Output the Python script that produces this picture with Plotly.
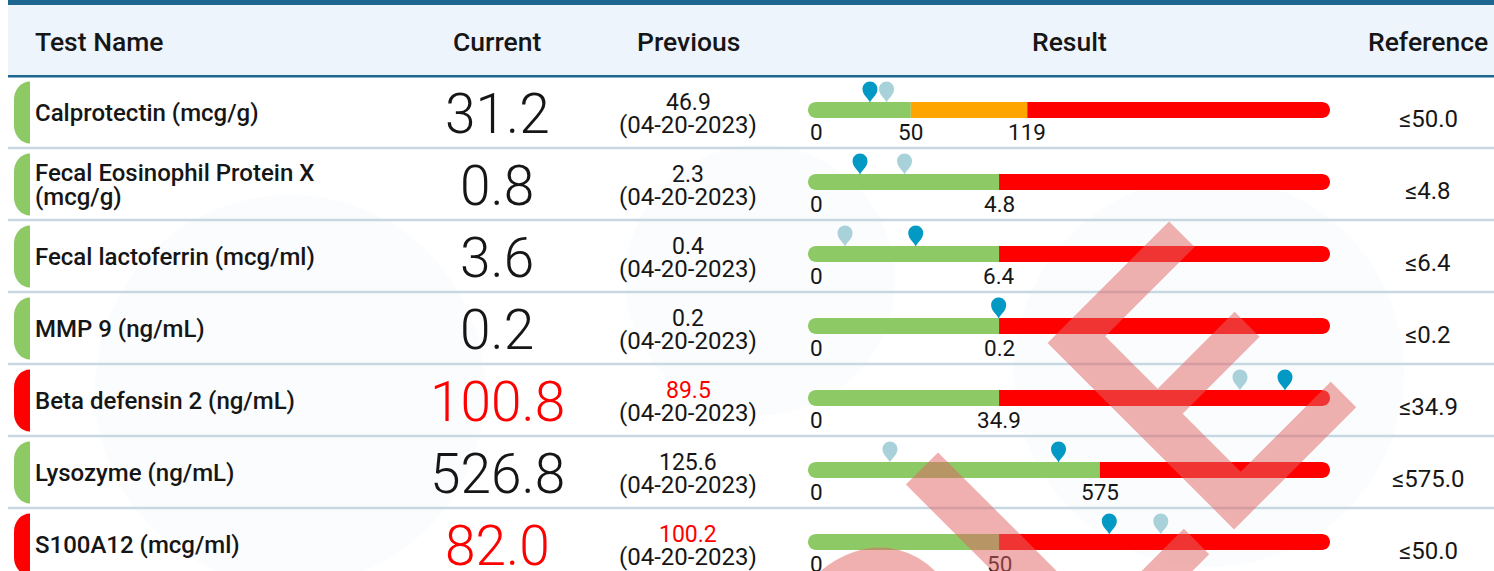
import plotly.graph_objects as go

# ---------------- data ----------------
column_headers = ["Test Name", "Current", "Previous", "Result", "Reference"]
test_names = [
    "Calprotectin (mcg/g)",
    "Fecal Eosinophil Protein X\n(mcg/g)",
    "Fecal lactoferrin (mcg/ml)",
    "MMP 9 (ng/mL)",
    "Beta defensin 2 (ng/mL)",
    "Lysozyme (ng/mL)",
    "S100A12 (mcg/ml)",
]
current_values = [31.2, 0.8, 3.6, 0.2, 100.8, 526.8, 82.0]
previous_values = [46.9, 2.3, 0.4, 0.2, 89.5, 125.6, 100.2]
previous_dates = ["04-20-2023"] * 7
reference_ranges = ["≤50.0", "≤4.8", "≤6.4", "≤0.2", "≤34.9", "≤575.0", "≤50.0"]
current_flags = ["normal", "normal", "normal", "normal", "high", "normal", "high"]
previous_flags = ["normal", "normal", "normal", "normal", "high", "normal", "high"]
cutoff_labels = [["50", "119"], ["4.8"], ["6.4"], ["0.2"], ["34.9"], ["575"], ["50"]]
segment_kinds = [["normal", "borderline", "high"], ["normal", "high"], ["normal", "high"],
                 ["normal", "high"], ["normal", "high"], ["normal", "high"], ["normal", "high"]]
watermark_text = "SAMPLE"

# ---------------- styling / layout ----------------
W, H = 1494, 571
FONT = "Roboto"
LIGHT_FONT = "Roboto Light, Inter"
TEXT = "#161616"
COLORS = {"normal": "#8DC965", "borderline": "#FFA500", "high": "#FF0000"}
CUR_PIN = "#0399C5"
PREV_PIN = "#A9D1DA"
HEAD_DARK = "#1D6690"
HEAD_BG = "#EEF4FC"
SEP = "#C7D8E3"
ROW_C0, ROW_H = 112.5, 72
BAR_X0, BAR_X1 = 808, 1330
BAR_HALF = 8
# where each cutoff sits along the result bar (fraction of bar length)
cutoff_pos = [[0.197, 0.42], [0.366], [0.366], [0.366], [0.366], [0.559], [0.366]]
# value scale (axis range) used for the pins of each row
pin_scale = [(-27.4, 466.2), (-0.954, 16.64), (-1.277, 22.35), (-0.0351, 0.6085),
             (-18.98, 112.1), (-69.5, 1172.8), (-24.5, 160.0)]
# faint background logo circles (cx, cy, r) in page pixels
bg_circles = [(290, 390, 195), (760, 280, 135), (1209, 372, 195)]

n = len(test_names)
bar_dom = [BAR_X0 / W, BAR_X1 / W]
K = 0.5523

fig = go.Figure()
shapes = []
ann = []


def rounded_path(x0, x1, yc, hh, r, left, right):
    yt, yb = yc - hh, yc + hh
    p = []
    if left:
        p.append(f"M{x0 + r},{yb}")
        p.append(f"C{x0 + r - K * r},{yb} {x0},{yc + K * hh} {x0},{yc}")
        p.append(f"C{x0},{yc - K * hh} {x0 + r - K * r},{yt} {x0 + r},{yt}")
    else:
        p.append(f"M{x0},{yb} L{x0},{yt}")
    if right:
        p.append(f"L{x1 - r},{yt}")
        p.append(f"C{x1 - r + K * r},{yt} {x1},{yc - K * hh} {x1},{yc}")
        p.append(f"C{x1},{yc + K * hh} {x1 - r + K * r},{yb} {x1 - r},{yb}")
    else:
        p.append(f"L{x1},{yt} L{x1},{yb}")
    p.append("Z")
    return " ".join(p)


def pill_path(x0, x1, y0, y1, rx, ry):
    return (f"M{x1},{y0} L{x1},{y1} "
            f"C{x1 - K * rx},{y1} {x0},{y1 - ry + K * ry} {x0},{y1 - ry} "
            f"L{x0},{y0 + ry} "
            f"C{x0},{y0 + ry - K * ry} {x1 - K * rx},{y0} {x1},{y0} Z")


PIN = ("M0,0 C-2,4.5 -7.5,7.5 -7.5,13.5 C-7.5,17.6 -4.1,21 0,21 "
       "C4.1,21 7.5,17.6 7.5,13.5 C7.5,7.5 2,4.5 0,0 Z")

# faint background logo
for cx, cy, r in bg_circles:
    shapes.append(dict(type="circle", xref="x", yref="y", x0=cx - r, x1=cx + r,
                       y0=cy - r, y1=cy + r, fillcolor="rgba(170,190,200,0.045)",
                       line_width=0, layer="below"))

# header
shapes.append(dict(type="rect", xref="x", yref="y", x0=8, x1=W, y0=0, y1=5,
                   fillcolor=HEAD_DARK, line_width=0))
shapes.append(dict(type="rect", xref="x", yref="y", x0=8, x1=W, y0=5, y1=75,
                   fillcolor=HEAD_BG, line_width=0))
shapes.append(dict(type="rect", xref="x", yref="y", x0=8, x1=W, y0=75, y1=77.5,
                   fillcolor=HEAD_DARK, line_width=0))
head_x = [33, 497, 688, 1069, 1428]
for i, h in enumerate(column_headers):
    ann.append(dict(x=head_x[i], y=41, xref="x", yref="y", text=h, showarrow=False,
                    xanchor="left" if i == 0 else "center", yanchor="middle",
                    font=dict(family=FONT, size=26.5, color=TEXT, weight=500)))

r_bar = BAR_HALF / (BAR_X1 - BAR_X0)
for i in range(n):
    c = ROW_C0 + ROW_H * i
    # separator
    if i < n - 1:
        shapes.append(dict(type="line", xref="x", yref="y", x0=8, x1=W,
                           y0=c + 35.5, y1=c + 35.5, line=dict(color=SEP, width=2.5)))
    # status pill
    shapes.append(dict(type="path", xref="x", yref="y",
                       path=pill_path(14, 30, c - 31, c + 31, 16, 18),
                       fillcolor=COLORS[current_flags[i]], line_width=0))
    # name
    lines = test_names[i].split("\n")
    offs = [0] if len(lines) == 1 else [-12, 12]
    for ln, off in zip(lines, offs):
        ann.append(dict(x=33, y=c + off, xref="x", yref="y", text=ln, showarrow=False,
                        xanchor="left", yanchor="middle",
                        font=dict(family=FONT, size=24, color=TEXT, weight=500)))
    # current
    ann.append(dict(x=497, y=c + 1, xref="x", yref="y", text=f"{current_values[i]:.1f}",
                    showarrow=False, xanchor="center", yanchor="middle",
                    font=dict(family=LIGHT_FONT, size=55, weight=300,
                              color=COLORS["high"] if current_flags[i] == "high" else TEXT)))
    # previous
    ann.append(dict(x=688, y=c - 10, xref="x", yref="y", text=f"{previous_values[i]:.1f}",
                    showarrow=False, xanchor="center", yanchor="middle",
                    font=dict(family=FONT, size=23,
                              color=COLORS["high"] if previous_flags[i] == "high" else TEXT)))
    ann.append(dict(x=688, y=c + 12, xref="x", yref="y", text=f"({previous_dates[i]})",
                    showarrow=False, xanchor="center", yanchor="middle",
                    font=dict(family=FONT, size=24, color=TEXT)))
    # reference
    ann.append(dict(x=1428, y=c + 6, xref="x", yref="y", text=reference_ranges[i],
                    showarrow=False, xanchor="center", yanchor="middle",
                    font=dict(family=FONT, size=24, color=TEXT)))
    # result bar segments
    yc = c - 2.5
    edges = [0.0] + cutoff_pos[i] + [1.0]
    kinds = segment_kinds[i]
    for s in range(len(kinds)):
        shapes.append(dict(type="path", xref="x2", yref="y",
                           path=rounded_path(edges[s], edges[s + 1], yc, BAR_HALF, r_bar,
                                             s == 0, s == len(kinds) - 1),
                           fillcolor=COLORS[kinds[s]], line_width=0))
    # bar labels
    ann.append(dict(x=0, y=c + 19, xref="x2", yref="y", text="0", showarrow=False,
                    xanchor="left", yanchor="middle",
                    font=dict(family=FONT, size=22.5, color=TEXT)))
    for pos, lab in zip(cutoff_pos[i], cutoff_labels[i]):
        ann.append(dict(x=pos, y=c + 19, xref="x2", yref="y", text=lab, showarrow=False,
                        xanchor="center", yanchor="middle",
                        font=dict(family=FONT, size=22.5, color=TEXT)))
    # pins (previous underneath, current on top)
    ax = f"x{3 + i}"
    for val, col in ((previous_values[i], PREV_PIN), (current_values[i], CUR_PIN)):
        shapes.append(dict(type="path", xref=ax, yref="y", xsizemode="pixel",
                           ysizemode="pixel", xanchor=val, yanchor=yc - BAR_HALF + 0.5,
                           path=PIN, fillcolor=col, line_width=0))
    fig.add_trace(go.Scatter(x=[previous_values[i], current_values[i]], y=[yc - 20, yc - 20],
                             xaxis=ax, yaxis="y", mode="markers",
                             marker=dict(size=14, opacity=0),
                             hovertemplate="%{x}<extra></extra>", showlegend=False))

fig.add_trace(go.Scatter(x=[0, 1], y=[0, 0], xaxis="x2", yaxis="y", mode="markers",
                         marker=dict(opacity=0), hoverinfo="skip", showlegend=False))
fig.add_trace(go.Scatter(x=[0, W], y=[0, H], mode="markers", marker=dict(opacity=0),
                         hoverinfo="skip", showlegend=False))

# watermark
ann.append(dict(x=763.9 / W, y=1 - 820.1 / H, xref="paper", yref="paper",
                text=watermark_text, showarrow=False, textangle=-45,
                xanchor="center", yanchor="middle",
                font=dict(family=FONT, size=371, weight=500, color="rgba(226,100,100,0.51)")))

layout_axes = dict(
    xaxis=dict(range=[0, W], visible=False, domain=[0, 1], fixedrange=True),
    yaxis=dict(range=[H, 0], visible=False, domain=[0, 1], fixedrange=True),
    xaxis2=dict(range=[0, 1], visible=False, domain=bar_dom, anchor="y", fixedrange=True),
)
for i in range(n):
    layout_axes[f"xaxis{3 + i}"] = dict(range=list(pin_scale[i]), visible=False,
                                        domain=bar_dom, anchor="y", fixedrange=True)

fig.update_layout(width=W, height=H, margin=dict(l=0, r=0, t=0, b=0),
                  paper_bgcolor="white", plot_bgcolor="rgba(0,0,0,0)",
                  shapes=shapes, annotations=ann, showlegend=False, **layout_axes)
fig.write_html("out.html", config={"displayModeBar": False},
               post_script="document.body.style.margin='0';document.body.style.overflow='hidden';")
